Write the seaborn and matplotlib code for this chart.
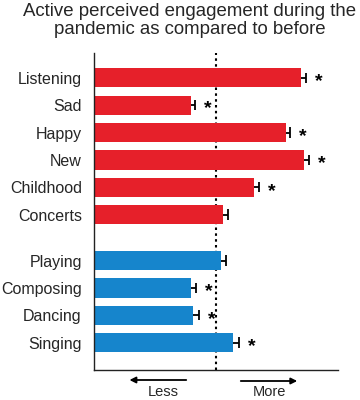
import matplotlib
matplotlib.use("Agg")
import matplotlib.pyplot as plt
import seaborn as sns
import pandas as pd
import numpy as np

categories = ["Listening", "Sad", "Happy", "New", "Childhood", "Concerts",
              "Playing", "Composing", "Dancing", "Singing"]
groups = ["Listening", "Listening", "Listening", "Listening", "Listening", "Listening",
          "Making", "Making", "Making", "Making"]
values = [1.70, 0.79, 1.57, 1.72, 1.31, 1.055, 1.04, 0.79, 0.81, 1.14]
errors = [0.038, 0.033, 0.033, 0.041, 0.041, 0.044, 0.041, 0.041, 0.052, 0.044]
significant = [True, True, True, True, True, False, False, True, True, True]
title_text = "Active perceived engagement during the\npandemic as compared to before"
less_label = "Less"
more_label = "More"

sns.set_theme(style="white")
plt.rcParams['font.family'] = ['Liberation Sans', 'DejaVu Sans']

RED = "#E6202A"
BLUE = "#1685CC"
GROUP_GAP = 0.68

pos = []
for i, g in enumerate(groups):
    pos.append(i + (GROUP_GAP if g == "Making" else 0.0))
df = pd.DataFrame({"cat": categories, "group": groups, "value": values,
                   "err": errors, "pos": pos, "sig": significant})

fig = plt.figure(figsize=(3.6, 4.0), dpi=100)
ax = fig.add_axes([94.3 / 360, 1 - 370 / 400, (338 - 94.3) / 360, (370 - 53) / 400])

sns.barplot(data=df, x="value", y="pos", hue="group", orient="h",
            native_scale=True, palette={"Listening": RED, "Making": BLUE},
            width=0.7, errorbar=None, legend=False, ax=ax, saturation=1,
            linewidth=0)

# one-sided error bars (outward only)
ends = df["value"] + df["err"]
ax.hlines(df["pos"], df["value"], ends, color="black", linewidth=1.3, zorder=3)
ax.vlines(ends, df["pos"] - 0.19, df["pos"] + 0.19, color="black", linewidth=1.3, zorder=3)

for v, e, p, s in zip(df["value"], df["err"], df["pos"], df["sig"]):
    if s:
        ax.text(v + e + 0.105, p + 0.14, "*", ha="center", va="center",
                fontsize=14, fontweight="bold", color="black")

ax.axvline(1.0, color="black", linestyle=(0, (1.2, 1.6)), linewidth=1.5, zorder=0)

ax.set_xlim(0, 2)
ax.set_ylim(pos[-1] + 1.0, -0.91)
ax.set_yticks(df["pos"])
ax.set_yticklabels(categories, fontsize=11.5)
ax.tick_params(axis="y", length=0, pad=9)
ax.set_xticks([])
ax.set_xlabel("")
ax.set_ylabel("")
for sp in ["top", "right"]:
    ax.spines[sp].set_visible(False)
for sp in ["left", "bottom"]:
    ax.spines[sp].set_color("#222222")
    ax.spines[sp].set_linewidth(1.0)
ax.set_facecolor("white")

fig.text(190 / 360, 1 - 20.5 / 400, title_text, ha="center", va="center",
         fontsize=13.4, linespacing=1.0)

# Less / More arrows
ax.annotate("", xy=(126.7 / 360, 1 - 380 / 400), xytext=(189 / 360, 1 - 380 / 400),
            xycoords="figure fraction",
            arrowprops=dict(arrowstyle="-|>", color="black", lw=1.3, mutation_scale=9))
ax.annotate("", xy=(300 / 360, 1 - 381 / 400), xytext=(238 / 360, 1 - 381 / 400),
            xycoords="figure fraction",
            arrowprops=dict(arrowstyle="-|>", color="black", lw=1.3, mutation_scale=9))
fig.text(163 / 360, 1 - 392 / 400, less_label, ha="center", va="center", fontsize=10.5)
fig.text(269 / 360, 1 - 392 / 400, more_label, ha="center", va="center", fontsize=10.5)

fig.savefig("out.png", dpi=100, facecolor="white")
